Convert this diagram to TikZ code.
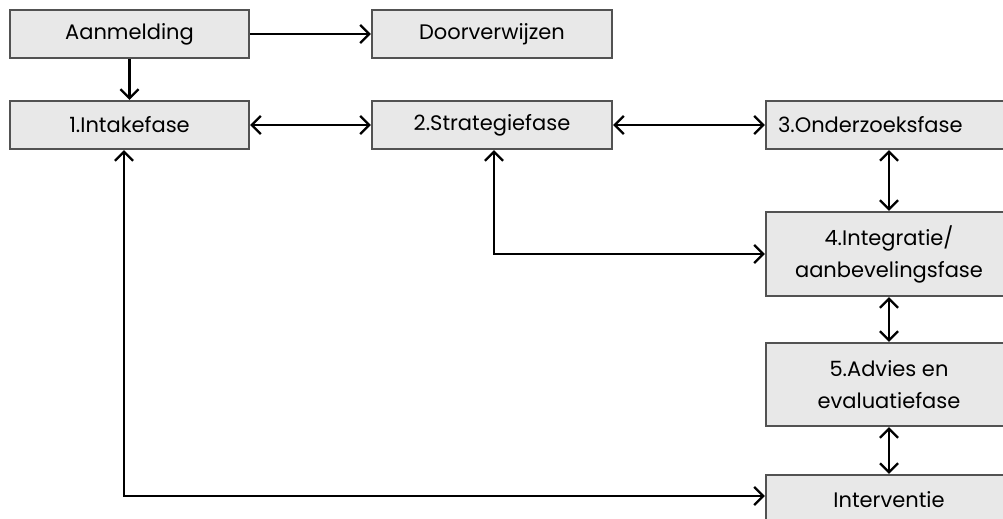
\documentclass[tikz,border=0pt]{standalone}
\usepackage{fontspec}
\setmainfont{Poppins}
\usetikzlibrary{arrows.meta}

\tikzset{
  fase/.style={draw=black!68, fill=black!9, line width=1.2pt, inner sep=0pt,
    minimum height=24pt, align=center,
    font=\fontsize{10.5}{16}\selectfont},
  pijl/.style={line width=1.1pt, -{Straight Barb[length=4.5pt,width=9pt]}},
  tweepijl/.style={line width=1.1pt, {Straight Barb[length=4.5pt,width=9pt]}-{Straight Barb[length=4.5pt,width=9pt]}},
}

\begin{document}
\begin{tikzpicture}[x=0.5pt, y=-0.5pt]
    \clip (0,0) rectangle (1003,519);
    \fill[white] (0,0) rectangle (1003,519);
    % boxes
    \node[fase, minimum width=119.5pt] (aanm) at (129.5,34) {Aanmelding};
    \node[fase, minimum width=120pt] (door) at (492,34) {Doorverwijzen};
    \node[fase, minimum width=119.5pt] (intake) at (129.5,125) {1.Intakefase};
    \node[fase, minimum width=120pt] (strat) at (492,125) {2.Strategiefase};
    \node[fase, minimum width=123pt, text width=111pt, align=left] (onder) at (889,125) {3.Onderzoeksfase};
    \node[fase, minimum width=123pt, minimum height=42pt] (integ) at (889,254) {4.Integratie/\\aanbevelingsfase};
    \node[fase, minimum width=123pt, minimum height=41.5pt] (advies) at (889,384.5) {5.Advies en\\evaluatiefase};
    \node[fase, minimum width=123pt, minimum height=25pt] (interv) at (889,500) {Interventie};
    % arrows
    \draw[pijl] (aanm) -- (intake);
    \draw[pijl] (aanm) -- (door);
    \draw[tweepijl] (intake) -- (strat);
    \draw[tweepijl] (strat) -- (onder);
    \draw[tweepijl] (onder) -- (integ);
    \draw[tweepijl] (integ) -- (advies);
    \draw[tweepijl] (advies) -- (interv);
    \draw[tweepijl] ([xshift=1pt]strat.south) |- (integ.west);
    \draw[tweepijl] ([xshift=-2.75pt]intake.south) |- ([yshift=2pt]interv.west);
\end{tikzpicture}
\end{document}
